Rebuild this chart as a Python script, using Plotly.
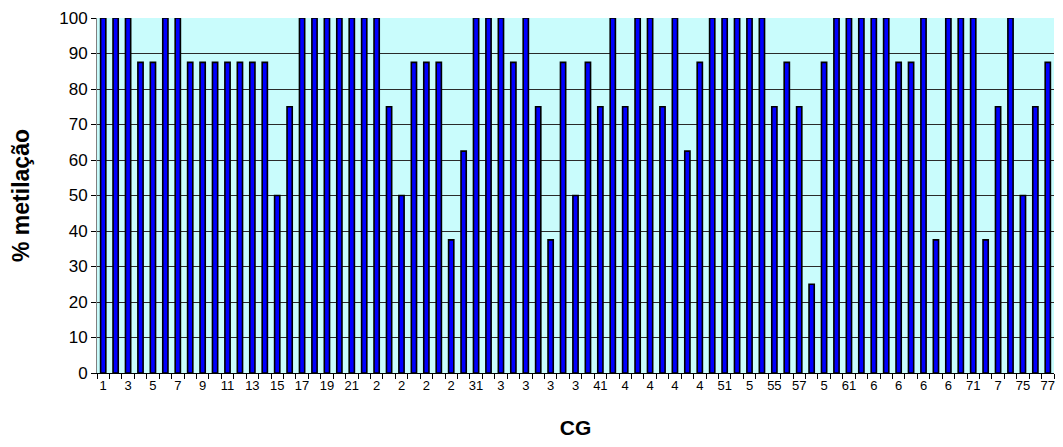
import plotly.graph_objects as go

# CG positions 1..77
cg_positions = [str(i) for i in range(1, 78)]

# % methylation per CG
methylation = [
    100, 100, 100, 87.5, 87.5, 100, 100, 87.5, 87.5, 87.5,
    87.5, 87.5, 87.5, 87.5, 50, 75, 100, 100, 100, 100,
    100, 100, 100, 75, 50, 87.5, 87.5, 87.5, 37.5, 62.5,
    100, 100, 100, 87.5, 100, 75, 37.5, 87.5, 50, 87.5,
    75, 100, 75, 100, 100, 75, 100, 62.5, 87.5, 100,
    100, 100, 100, 100, 75, 87.5, 75, 25, 87.5, 100,
    100, 100, 100, 100, 87.5, 87.5, 100, 37.5, 100, 100,
    100, 37.5, 75, 100, 50, 75, 87.5,
]

# Tick labels as shown (odd positions, some truncated as in original)
odd_labels = ["1", "3", "5", "7", "9", "11", "13", "15", "17", "19", "21",
              "2", "2", "2", "2", "31", "3", "3", "3", "3", "41",
              "4", "4", "4", "4", "51", "5", "55", "57", "5", "61",
              "6", "6", "6", "6", "71", "7", "75", "77"]

tick_text = []
k = 0
for i in range(77):
    if i % 2 == 0:
        tick_text.append(odd_labels[k])
        k += 1
    else:
        tick_text.append("")

y_ticks = list(range(0, 101, 10))

fig = go.Figure()
fig.add_trace(go.Bar(
    x=cg_positions,
    y=methylation,
    width=0.42,
    marker=dict(color="#0000FF", line=dict(color="#000000", width=1.6)),
))

# page body has an 8px default margin; figure sized to fit inside the window
fig.update_layout(
    width=1047, height=431,
    margin=dict(l=89, r=1, t=10, b=66, autoexpand=False),
    paper_bgcolor="white",
    plot_bgcolor="#C9FCFC",
    showlegend=False,
    font=dict(family="Liberation Sans, Arial, sans-serif", color="#000000"),
)

fig.update_xaxes(
    type="category",
    tickmode="array",
    tickvals=cg_positions,
    ticktext=tick_text,
    tickangle=0,
    tickson="boundaries",
    ticks="outside",
    ticklen=5,
    tickcolor="#000000",
    tickfont=dict(size=13, family="Liberation Sans, Arial, sans-serif"),
    showline=True,
    linecolor="#000000",
    linewidth=1,
    showgrid=False,
    automargin=False,
    title=dict(text="<b>CG</b>", font=dict(size=21), standoff=28),
    range=[-0.5, 76.5],
)

fig.update_yaxes(
    range=[0, 100],
    tickmode="array",
    tickvals=y_ticks,
    ticks="outside",
    ticklen=5,
    tickcolor="#000000",
    tickfont=dict(size=17, family="Liberation Sans, Arial, sans-serif"),
    ticklabeloverflow="allow",
    showgrid=True,
    gridcolor="#2a2a2a",
    gridwidth=1,
    showline=True,
    linecolor="#808080",
    linewidth=1,
    zeroline=False,
    automargin=False,
    title=dict(text="<b>% metilação</b>", font=dict(size=23), standoff=31),
)

fig.write_html("out.html")
